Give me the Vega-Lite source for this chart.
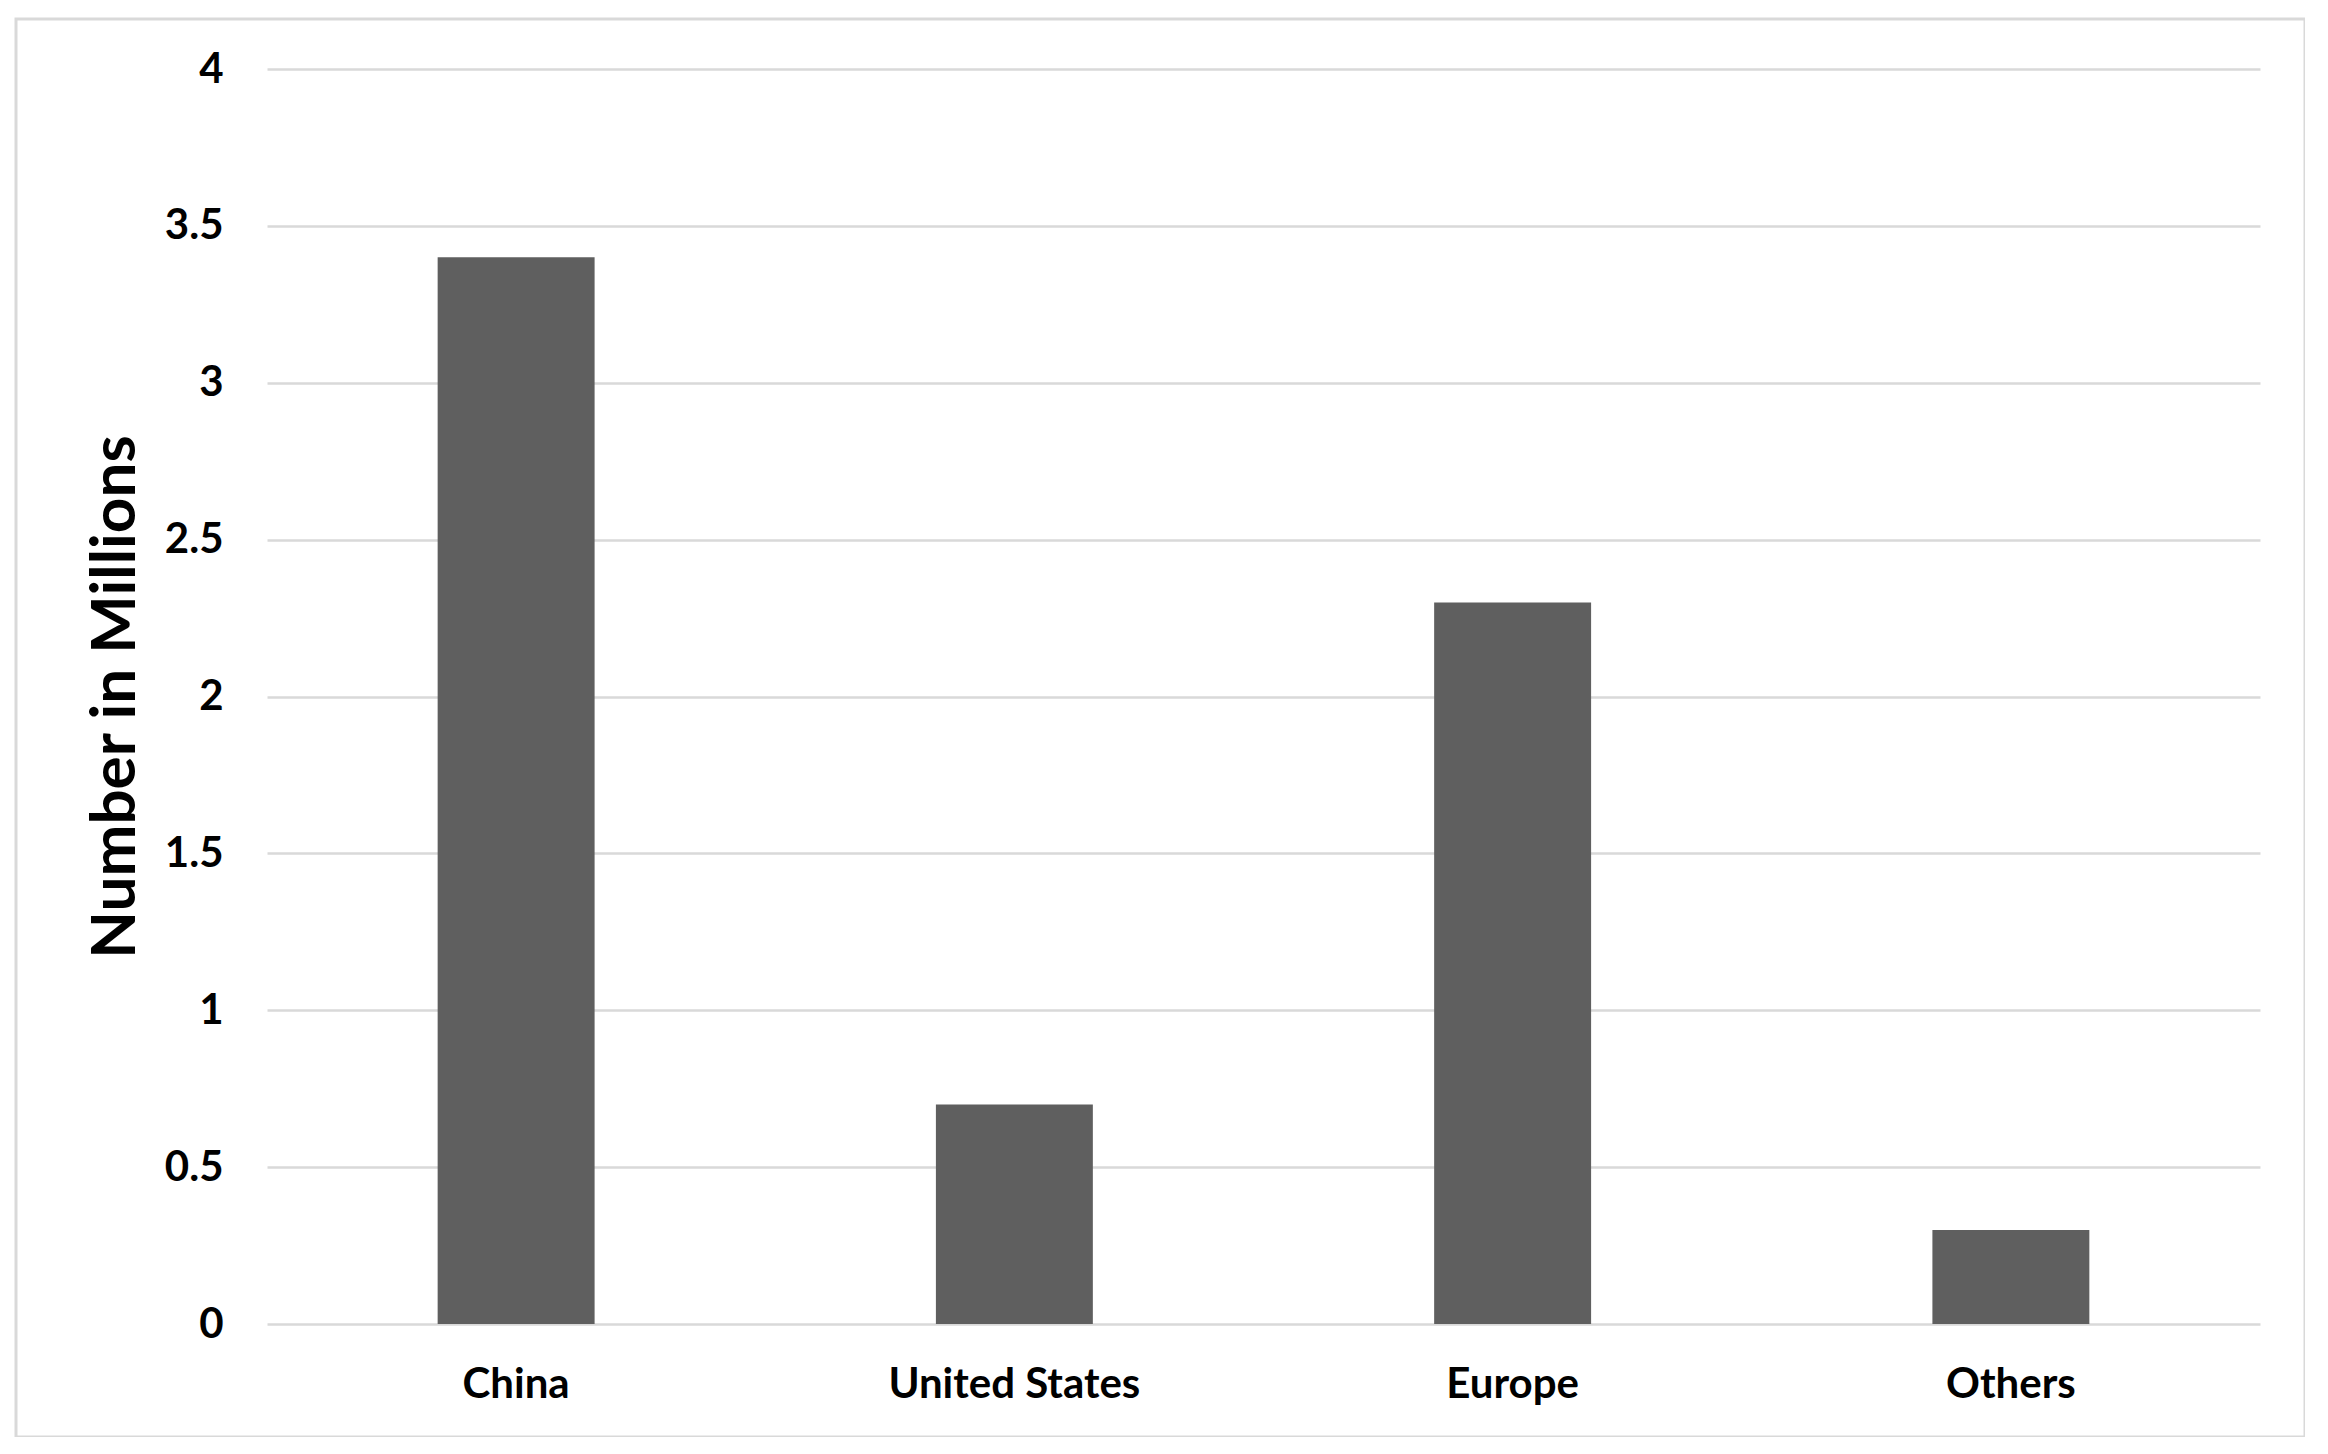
{
  "$schema": "https://vega.github.io/schema/vega-lite/v6.json",
  "width": 2289,
  "height": 1418,
  "autosize": {"type": "none"},
  "padding": {"left": 16, "top": 19, "right": 0, "bottom": 0},
  "background": "white",
  "config": {
    "view": {"stroke": "#d9d9d9", "strokeWidth": 3},
    "font": "Lato"
  },
  "data": {
    "values": [
      {"region": "China", "value": 3.4},
      {"region": "United States", "value": 0.7},
      {"region": "Europe", "value": 2.3},
      {"region": "Others", "value": 0.3}
    ]
  },
  "mark": {"type": "bar", "color": "#5f5f5f"},
  "encoding": {
    "x": {
      "field": "region",
      "type": "nominal",
      "sort": null,
      "scale": {"range": [251, 2244], "paddingInner": 0.685, "paddingOuter": 0.3425},
      "axis": {
        "title": null,
        "orient": "bottom",
        "offset": -113,
        "domain": false,
        "ticks": false,
        "tickSize": 0,
        "grid": false,
        "labelAngle": 0,
        "labelLimit": 0,
        "labelFont": "Lato",
        "labelFontWeight": "bold",
        "labelFontSize": 42,
        "labelColor": "#000000",
        "labelPadding": 40,
        "labelBaseline": "top"
      }
    },
    "y": {
      "field": "value",
      "type": "quantitative",
      "scale": {"domain": [0, 4], "range": [1305, 50], "nice": false},
      "axis": {
        "title": "Number in Millions",
        "orient": "left",
        "offset": -251,
        "values": [0, 0.5, 1, 1.5, 2, 2.5, 3, 3.5, 4],
        "format": "~g",
        "domain": false,
        "ticks": false,
        "tickSize": 0,
        "grid": true,
        "gridColor": "#d9d9d9",
        "gridWidth": 2.5,
        "labelFont": "Lato",
        "labelFontWeight": "bold",
        "labelFontSize": 42,
        "labelColor": "#000000",
        "labelPadding": 44,
        "titleFont": "Lato",
        "titleFontWeight": "bold",
        "titleFontSize": 62,
        "titleColor": "#000000",
        "titlePadding": 17
      }
    }
  }
}
